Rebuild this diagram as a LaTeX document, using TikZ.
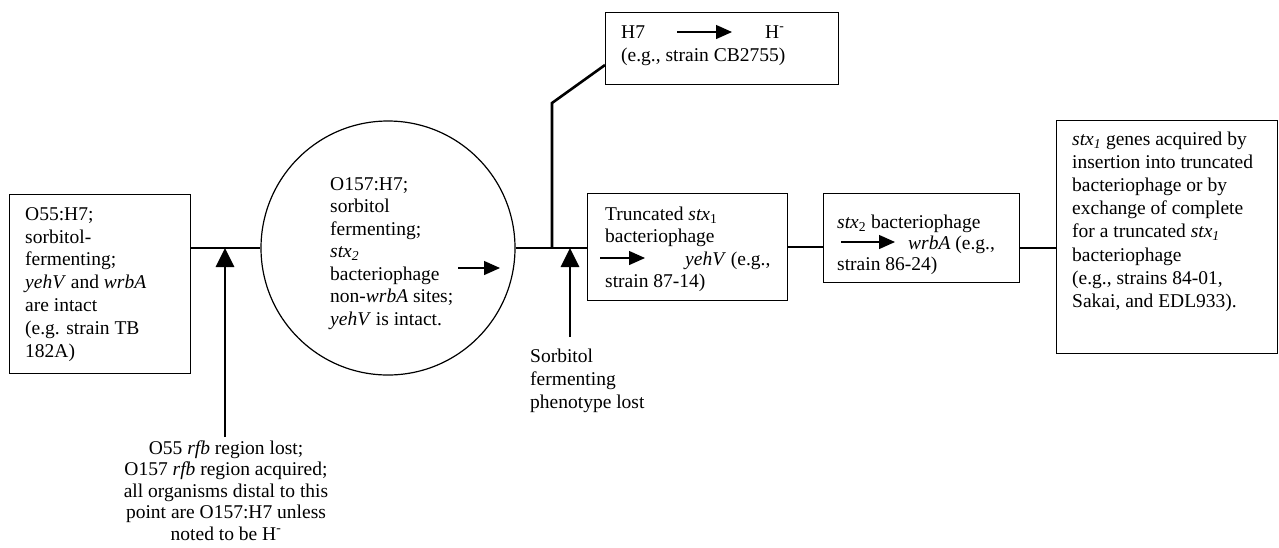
\documentclass[tikz,border=0pt]{standalone}
\usepackage{fontspec}
\setmainfont{Liberation Serif}
\usetikzlibrary{arrows.meta}
\tikzset{
  box/.style={draw, line width=1.2pt, inner sep=0pt, anchor=north west},
  txt/.style={inner sep=0pt, anchor=base west, align=left, font=\fontsize{19.5}{22.6}\selectfont},
  conn/.style={line width=1.4pt},
  branch/.style={line width=2.6pt},
  uparrow/.style={line width=2.8pt, -{Triangle[length=19pt,width=18pt]}},
  inarrow/.style={line width=1.3pt, -{Triangle[length=16pt,width=14pt]}}
}
\begin{document}
\begin{tikzpicture}[x=1pt,y=-1pt]
\useasboundingbox (0,0) rectangle (1279,547);

% boxes and circle
\node[box, minimum width=181pt, minimum height=179pt] (b1) at (9,194) {};
\node[draw, circle, line width=1.2pt, minimum size=254pt, inner sep=0pt] (c) at (388,248) {};
\node[box, minimum width=200pt, minimum height=107pt] (b3) at (587,193) {};
\node[box, minimum width=233pt, minimum height=72pt] (bh) at (605,12) {};
\node[box, minimum width=196pt, minimum height=89pt] (b4) at (823,193) {};
\node[box, minimum width=221pt, minimum height=233pt] (b5) at (1056,120) {};

% texts (anchor base = baseline of the last line)
\node[txt, font=\fontsize{19.5}{22.8}\selectfont] (t1) at (25,357) {O55:H7;\\sorbitol-\\fermenting;\\\textit{yehV} and \textit{wrbA}\\are intact\\(e.g. strain TB\\182A)};
\node[txt, font=\fontsize{19.5}{22.5}\selectfont] (t2) at (330,325) {O157:H7;\\sorbitol\\fermenting;\\\textit{stx}\textsubscript{\textit{2}}\\bacteriophage\\non-\textit{wrbA} sites;\\\textit{yehV} is intact.};
\node[txt, font=\fontsize{19.5}{22.5}\selectfont] (t3) at (605,287.5) {Truncated \textit{stx}\textsubscript{1}\\bacteriophage\\\hspace*{80pt}\textit{yehV} (e.g.,\\strain 87-14)};
\node[txt, font=\fontsize{19.5}{23}\selectfont] (th) at (621,61) {\makebox[144pt][l]{H7}H\textsuperscript{-}\\(e.g., strain CB2755)};
\node[txt, font=\fontsize{19.5}{21}\selectfont] (t4) at (837,270) {\textit{stx}\textsubscript{2} bacteriophage\\\hspace*{71pt}\textit{wrbA} (e.g.,\\strain 86-24)};
\node[txt, font=\fontsize{19.5}{23.2}\selectfont] (t5) at (1072,307.4) {\textit{stx}\textsubscript{\textit{1}} genes acquired by\\insertion into truncated\\bacteriophage or by\\exchange of complete\\for a truncated \textit{stx}\textsubscript{\textit{1}}\\bacteriophage\\(e.g., strains 84-01,\\Sakai, and EDL933).};
\node[txt, font=\fontsize{19.5}{23}\selectfont] (t6) at (530,408) {Sorbitol\\fermenting\\phenotype lost};
\node[txt, anchor=base, align=center, font=\fontsize{19.5}{21.5}\selectfont] (t7) at (226,540) {O55 \textit{rfb} region lost;\\O157 \textit{rfb} region acquired;\\all organisms distal to this\\point are O157:H7 unless\\noted to be H\textsuperscript{-}};

% main line connectors
\coordinate (m) at (0,248);
\draw[conn] (b1.east |- m) -- (c.west);
\draw[conn] (c.east) -- (c.east -| b3.west);
\draw[conn] (b3.east |- 0,247) -- (b4.west |- 0,247);
\draw[conn] (b4.east |- m) -- (b5.west |- m);

% branch to H7 box
\coordinate (j) at (552,248);
\coordinate (jk) at (552,103);
\coordinate (hb) at (605,65);
\draw[branch] (j) -- (jk) -- (hb);

% upward arrows
\coordinate (a1) at (225,437);
\draw[uparrow] (a1) -- (a1 |- m);
\coordinate (a2) at (570,337);
\draw[uparrow] (a2) -- (a2 |- m);

% arrows inside text
\coordinate (ca1) at (458,268); \coordinate (ca2) at (500,268);
\draw[inarrow] (ca1) -- (ca2);
\coordinate (ta1) at (600,258); \coordinate (ta2) at (645,258);
\draw[inarrow] (ta1) -- (ta2);
\coordinate (sa1) at (841,242); \coordinate (sa2) at (895,242);
\draw[inarrow] (sa1) -- (sa2);
\coordinate (ha1) at (677,32); \coordinate (ha2) at (732,32);
\draw[inarrow] (ha1) -- (ha2);
\end{tikzpicture}
\end{document}
